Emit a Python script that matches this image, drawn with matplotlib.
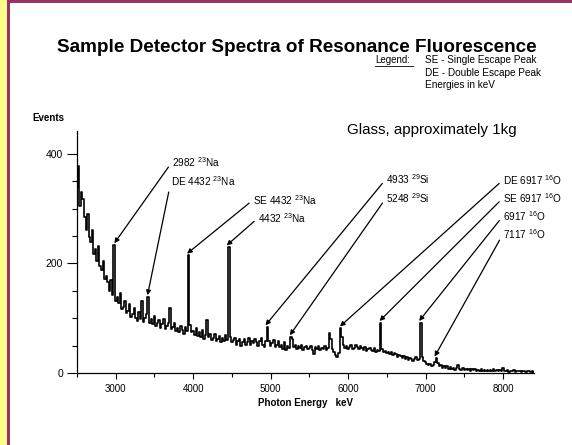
import numpy as np
import matplotlib
matplotlib.use("Agg")
import matplotlib.pyplot as plt
from matplotlib.patches import Rectangle
from matplotlib.lines import Line2D
from matplotlib.ticker import MultipleLocator

plt.rcParams['font.family'] = ['Liberation Sans', 'DejaVu Sans']
plt.rcParams['mathtext.fontset'] = 'custom'
plt.rcParams['mathtext.rm'] = 'Liberation Sans'
plt.rcParams['mathtext.it'] = 'Liberation Sans:italic'
plt.rcParams['mathtext.bf'] = 'Liberation Sans:bold'
plt.rcParams['mathtext.default'] = 'regular'

# ---------------- data ----------------
E_START = 2500      # keV, first channel
E_STEP = 20         # keV per channel
counts = [
    340, 378, 305, 330, 318, 285, 262, 290, 248, 240,   # 2500-2680
    262, 218, 226, 205, 232, 196, 188, 205, 172, 178,   # 2700-2880
    166, 150, 170, 142, 234, 132, 138, 128, 146, 116,   # 2900-3080
    120, 132, 110, 114, 126, 102, 108, 118, 100, 95,    # 3100-3280
    112, 98, 132, 94, 100, 108, 139, 92, 98, 90,        # 3300-3480
    104, 86, 92, 96, 82, 90, 98, 80, 86, 92,            # 3500-3680
    118, 80, 84, 92, 76, 82, 74, 86, 78, 72,            # 3700-3880
    84, 76, 215, 88, 74, 76, 70, 82, 68, 74,            # 3900-4080
    66, 78, 62, 70, 97, 66, 72, 60, 64, 72,             # 4100-4280
    58, 62, 68, 56, 64, 58, 70, 60, 230, 66,            # 4300-4480
    56, 60, 64, 52, 58, 62, 50, 56, 62, 52,             # 4500-4680
    56, 64, 52, 58, 54, 62, 56, 50, 58, 64,             # 4700-4880
    52, 48, 58, 84, 58, 50, 54, 60, 48, 52,             # 4900-5080
    58, 48, 52, 44, 56, 42, 50, 46, 66, 62,             # 5100-5280
    48, 52, 44, 50, 46, 52, 42, 48, 50, 44,             # 5300-5480
    46, 50, 42, 34, 48, 44, 50, 42, 46, 44,             # 5500-5680
    50, 42, 46, 73, 62, 44, 38, 32, 30, 36,             # 5700-5880
    82, 66, 52, 46, 50, 44, 48, 52, 44, 46,             # 5900-6080
    52, 48, 44, 50, 46, 42, 48, 40, 44, 46,             # 6100-6280
    42, 40, 46, 38, 42, 40, 92, 44, 38, 40,             # 6300-6480
    36, 38, 34, 38, 32, 36, 34, 30, 33, 31,             # 6500-6680
    28, 31, 26, 29, 24, 28, 25, 22, 26, 30,             # 6700-6880
    23, 26, 92, 30, 22, 20, 17, 14, 16, 12,             # 6900-7080
    14, 20, 27, 18, 12, 14, 10, 13, 9, 12,              # 7100-7280
    8, 11, 8, 10, 6, 9, 14, 8, 6, 9,                    # 7300-7480
    5, 8, 5, 7, 4, 7, 5, 8, 4, 6,                       # 7500-7680
    4, 7, 3, 6, 4, 5, 3, 6, 4, 7,                       # 7700-7880
    3, 5, 3, 6, 4, 10, 4, 3, 5, 2,                      # 7900-8080
    4, 3, 5, 2, 4, 3, 4, 2, 4, 3,                       # 8100-8280
    2, 3, 4, 2, 3, 2, 3,                                # 8300-8400
]

peak_energies = [2982, 3410, 3921, 4432, 4933, 5248, 5895, 6406, 6917, 7117]
peak_labels = [
    r"2982 $^{23}$Na", r"DE 4432 $^{23}$Na", r"SE 4432 $^{23}$Na", r"4432 $^{23}$Na",
    r"4933 $^{29}$Si", r"5248 $^{29}$Si",
    r"DE 6917 $^{16}$O", r"SE 6917 $^{16}$O", r"6917 $^{16}$O", r"7117 $^{16}$O",
]
x_ticks = [3000, 4000, 5000, 6000, 7000, 8000]
y_ticks = [0, 200, 400]

title = "Sample Detector Spectra of Resonance Fluorescence"
subtitle = "Glass, approximately 1kg"
legend_lines = ["SE - Single Escape Peak", "DE - Double Escape Peak", "Energies in keV"]

# ---------------- layout ----------------
W, H = 572, 445
fig = plt.figure(figsize=(W / 100, H / 100), dpi=100)
fig.patch.set_facecolor("white")

def px(x, y):
    return x / W, 1 - y / H

# frame
fig.patches.append(Rectangle((0, 0), 7 / W, 1, transform=fig.transFigure,
                             facecolor="#FFFF8C", edgecolor="none", zorder=0))
fig.patches.append(Rectangle((7 / W, 0), 2.5 / W, 1, transform=fig.transFigure,
                             facecolor="#9B3068", edgecolor="none", zorder=1))
fig.patches.append(Rectangle((7 / W, 1 - 2.5 / H), 1, 2.5 / H, transform=fig.transFigure,
                             facecolor="#9B3068", edgecolor="none", zorder=1))

ax = fig.add_axes([77 / W, 72 / H, 457 / W, 242 / H])
energies = E_START + E_STEP * np.arange(len(counts))
ax.plot(energies, counts, drawstyle="steps-mid", color="black", lw=1.2)

ax.set_xlim(2500, 8400)
ax.set_ylim(0, 442)
ax.spines["top"].set_visible(False)
ax.spines["right"].set_visible(False)
for s in ("left", "bottom"):
    ax.spines[s].set_linewidth(0.9)
ax.set_xticks(x_ticks)
ax.set_yticks(y_ticks)
ax.xaxis.set_minor_locator(MultipleLocator(500))
ax.yaxis.set_minor_locator(MultipleLocator(50))
ax.tick_params(axis="y", which="major", length=7, width=0.8, labelsize=7.5, pad=3)
ax.tick_params(axis="y", which="minor", length=3.5, width=0.8)
ax.tick_params(axis="x", which="major", length=4, width=0.8, labelsize=7, pad=4)
ax.tick_params(axis="x", which="minor", length=3, width=0.8)
ax.set_xlabel("Photon Energy   keV", fontsize=7, fontweight="bold", labelpad=3)

fig.text(*px(32, 118), "Events", fontsize=7, fontweight="bold", ha="left", va="center")
fig.text(*px(297, 48), title, fontsize=13.6, fontweight="bold", ha="center", va="center")
fig.text(*px(432, 130), subtitle, fontsize=10.9, ha="center", va="center")

narrow = ["Liberation Sans Narrow", "Liberation Sans"]
fig.text(*px(375, 60), "Legend:", fontsize=7, family=narrow, ha="left", va="center")
fig.add_artist(Line2D([375 / W, 413 / W], [1 - 65.5 / H, 1 - 65.5 / H], color="black", lw=0.6))
for i, line in enumerate(legend_lines):
    fig.text(*px(425, 60 + 12.5 * i), line, fontsize=7.2, family=narrow, ha="left", va="center")

# label positions (figure pixels from top-left)
label_pos = [(172, 162), (171, 181), (253, 200), (258, 218),
             (386, 179), (386, 198),
             (503, 180), (503, 198), (503, 216), (503, 234)]
counts_arr = np.array(counts)
for e, lab, (lx, ly) in zip(peak_energies, peak_labels, label_pos):
    idx = int(round((e - E_START) / E_STEP))
    top = counts_arr[max(idx - 1, 0): idx + 2].max()
    ax.annotate(lab, xy=(e, top + 3), xycoords="data",
                xytext=(lx, H - ly), textcoords="figure pixels",
                fontsize=7.2, ha="left", va="center",
                arrowprops=dict(arrowstyle="-|>", color="black", lw=0.9,
                                mutation_scale=7, shrinkA=1, shrinkB=0,
                                relpos=(0, 0.5)))

fig.savefig("out.png", dpi=100)
